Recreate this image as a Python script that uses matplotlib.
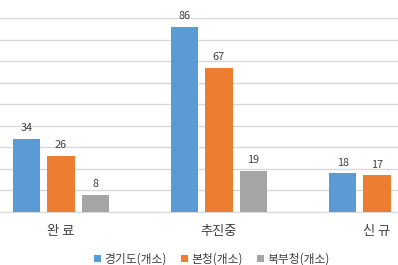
import numpy as np
import matplotlib.pyplot as plt

plt.rcParams['font.family'] = ['Noto Sans CJK KR', 'DejaVu Sans']

categories = ['완 료', '추진중', '신 규']
series_names = ['경기도(개소)', '본청(개소)', '북부청(개소)']
gyeonggi = [34, 86, 18]
bonchung = [26, 67, 17]
bukbu = [8, 19, None]

colors = ['#5B9BD5', '#ED7D31', '#A5A5A5']

fig = plt.figure(figsize=(3.98, 2.65), dpi=100)
# plot area runs past the image edges like the cropped original
ax = fig.add_axes([-18 / 398, 53 / 265, 474 / 398, 194 / 265])

x = np.arange(len(categories))
width = 0.171
step = 0.218

handles = []
for i, (vals, name) in enumerate(zip([gyeonggi, bonchung, bukbu], series_names)):
    xs = [xi + (i - 1) * step for xi, v in zip(x, vals) if v is not None]
    ys = [v for v in vals if v is not None]
    bars = ax.bar(xs, ys, width, color=colors[i], label=name, zorder=3)
    handles.append(bars)
    for xx, yy in zip(xs, ys):
        ax.annotate(str(yy), (xx, yy), xytext=(0, 4), textcoords='offset points',
                    ha='center', va='bottom', fontsize=7.8, color='#404040',
                    annotation_clip=False)

ax.set_xlim(-0.5, 2.5)
ax.set_ylim(0, 90)
ax.set_yticks(np.arange(0, 91, 10))
ax.yaxis.grid(True, color='#D9D9D9', linewidth=1, zorder=0)
ax.tick_params(left=False, bottom=False, labelleft=False)
ax.set_xticks(x)
ax.set_xticklabels(categories, fontsize=9.5, color='#404040')
ax.tick_params(axis='x', pad=6)
for s in ['top', 'right', 'left']:
    ax.spines[s].set_visible(False)
ax.spines['bottom'].set_color('#D9D9D9')

fig.legend(handles=handles, labels=series_names, loc='center', bbox_to_anchor=(212 / 398, 1 - 259 / 265),
           ncol=3, frameon=False, fontsize=8.5, handlelength=0.6, handleheight=0.6,
           handletextpad=0.3, columnspacing=1.2, labelcolor='#404040')

fig.savefig('out.png', dpi=100)
